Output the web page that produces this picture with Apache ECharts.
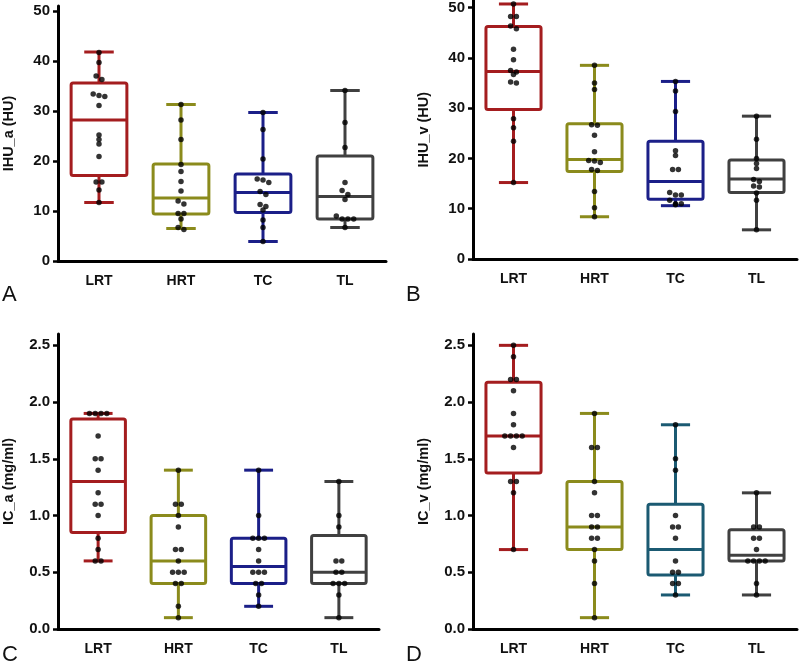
<!DOCTYPE html>
<html><head><meta charset="utf-8">
<script src="https://cdn.jsdelivr.net/npm/echarts@6/dist/echarts.min.js"></script>
<style>html,body{margin:0;padding:0;background:#fff}#c{width:800px;height:667px}</style>
</head><body><div id="c"></div>
<script>
const categories = ['LRT', 'HRT', 'TC', 'TL'];

// Panel A: IHU_a (HU)
const ihuA_LRT = [41.7, 39.7, 37.0, 36.3, 33.4, 33.1, 32.9, 31.1, 25.2, 24.3, 23.4, 20.9, 15.8, 15.8, 14.2, 11.7];
const ihuA_HRT = [31.3, 28.2, 24.3, 19.3, 17.9, 15.9, 14.0, 12.0, 11.4, 9.5, 9.5, 8.4, 6.7, 6.3];
const ihuA_TC  = [29.7, 26.3, 20.4, 16.4, 16.2, 15.7, 13.9, 13.3, 11.3, 10.9, 10.2, 8.2, 6.7, 3.9];
const ihuA_TL  = [34.1, 27.7, 22.7, 15.7, 14.1, 13.3, 12.3, 9.0, 8.4, 8.4, 8.4, 6.7];
// box stats: [min, Q1, median, Q3, max]
const ihuA_box = [[11.7, 17.1, 28.2, 35.6, 41.8], [6.5, 9.4, 12.6, 19.4, 31.3], [3.9, 9.7, 13.7, 17.4, 29.7], [6.7, 8.4, 12.9, 21.0, 34.1]];

// Panel B: IHU_v (HU)
const ihuV_LRT = [50.7, 48.2, 48.2, 46.3, 45.8, 41.7, 39.6, 37.5, 37.2, 36.7, 35.2, 35.0, 27.9, 26.1, 23.4, 15.2];
const ihuV_HRT = [38.5, 35.0, 33.7, 26.7, 26.6, 24.6, 21.3, 19.6, 19.5, 19.2, 17.8, 17.6, 13.4, 10.2, 8.4];
const ihuV_TC  = [35.3, 33.4, 29.3, 21.5, 20.6, 17.8, 17.8, 13.2, 12.7, 12.7, 11.7, 11.0, 11.0, 10.8];
const ihuV_TL  = [28.4, 23.8, 20.0, 19.0, 18.0, 15.8, 15.4, 14.5, 14.3, 13.1, 11.7, 5.8];
const ihuV_box = [[15.2, 29.7, 37.3, 46.2, 50.7], [8.4, 17.4, 19.8, 26.9, 38.5], [10.6, 11.9, 15.4, 23.4, 35.3], [5.8, 13.2, 15.9, 19.7, 28.4]];

// Panel C: IC_a (mg/ml)
const icA_LRT = [1.9, 1.9, 1.9, 1.9, 1.7, 1.5, 1.5, 1.4, 1.2, 1.1, 1.1, 1.0, 0.8, 0.7, 0.6, 0.6];
const icA_HRT = [1.4, 1.1, 1.1, 1.0, 0.9, 0.7, 0.7, 0.6, 0.5, 0.5, 0.5, 0.4, 0.4, 0.2, 0.1];
const icA_TC  = [1.4, 1.0, 0.8, 0.8, 0.8, 0.7, 0.6, 0.5, 0.5, 0.5, 0.4, 0.4, 0.3, 0.2];
const icA_TL  = [1.3, 1.0, 0.9, 0.6, 0.6, 0.5, 0.5, 0.4, 0.4, 0.4, 0.3, 0.1];
const icA_box = [[0.6, 0.85, 1.3, 1.85, 1.9], [0.1, 0.4, 0.6, 1.0, 1.4], [0.2, 0.4, 0.55, 0.8, 1.4], [0.1, 0.4, 0.5, 0.825, 1.3]];

// Panel D: IC_v (mg/ml)
const icV_LRT = [2.5, 2.4, 2.2, 2.2, 2.1, 1.9, 1.8, 1.7, 1.7, 1.7, 1.7, 1.6, 1.3, 1.3, 1.2, 0.7];
const icV_HRT = [1.9, 1.6, 1.6, 1.3, 1.2, 1.0, 1.0, 0.9, 0.9, 0.8, 0.8, 0.7, 0.6, 0.4, 0.1];
const icV_TC  = [1.8, 1.5, 1.4, 1.0, 0.9, 0.9, 0.8, 0.6, 0.5, 0.5, 0.4, 0.4, 0.3];
const icV_TL  = [1.2, 0.9, 0.9, 0.8, 0.8, 0.7, 0.6, 0.6, 0.6, 0.6, 0.4, 0.3];
const icV_box = [[0.7, 1.375, 1.7, 2.175, 2.5], [0.1, 0.7, 0.9, 1.3, 1.9], [0.3, 0.475, 0.7, 1.1, 1.8], [0.3, 0.6, 0.65, 0.875, 1.2]];

const yTicksIHU = [0, 10, 20, 30, 40, 50];
const yTicksIC = [0, 0.5, 1.0, 1.5, 2.0, 2.5];

// ---- layout / style ----
const FONT = '"Liberation Sans", Arial, Helvetica, sans-serif';
const paletteABC = ['#a41d1f', '#8b8b1c', '#1b1f88', '#404040'];
const paletteD = ['#a41d1f', '#8b8b1c', '#1b5a72', '#404040'];

const panels = [
  { name: 'IHU_a (HU)', groups: [ihuA_LRT, ihuA_HRT, ihuA_TC, ihuA_TL], box: ihuA_box, ticks: yTicksIHU, max: 51, dec: 0,
    grid: { left: 58, top: 6, width: 328, height: 255 }, palette: paletteABC, letter: 'A', lx: 2, ly: 284 },
  { name: 'IHU_v (HU)', groups: [ihuV_LRT, ihuV_HRT, ihuV_TC, ihuV_TL], box: ihuV_box, ticks: yTicksIHU, max: 51.4, dec: 0,
    grid: { left: 473, top: 0, width: 324, height: 259 }, palette: paletteABC, letter: 'B', lx: 406, ly: 284 },
  { name: 'IC_a (mg/ml)', groups: [icA_LRT, icA_HRT, icA_TC, icA_TL], box: icA_box, ticks: yTicksIC, max: 2.6, dec: 1,
    grid: { left: 57, top: 334, width: 322, height: 295 }, palette: paletteABC, letter: 'C', lx: 2, ly: 644 },
  { name: 'IC_v (mg/ml)', groups: [icV_LRT, icV_HRT, icV_TC, icV_TL], box: icV_box, ticks: yTicksIC, max: 2.6, dec: 1,
    grid: { left: 473, top: 334, width: 324, height: 295 }, palette: paletteD, letter: 'D', lx: 406, ly: 644 }
];

const DOT_SPACING = 5.8;  // px between dots in one row
const ROW_TOL = 4;        // px vertical tolerance for a row

function swarmOffsets(values, pxPerUnit) {
  const idx = values.map((v, i) => i).sort((a, b) => values[b] - values[a]);
  const off = new Array(values.length).fill(0);
  let row = [];
  const flush = () => { row.forEach((k, j) => { off[k] = (j - (row.length - 1) / 2) * DOT_SPACING; }); row = []; };
  idx.forEach(k => {
    if (row.length && (values[row[0]] - values[k]) * pxPerUnit > ROW_TOL) flush();
    row.push(k);
  });
  flush();
  return off;
}

function makeBoxRenderer(palette) {
  return function (params, api) {
    const c = api.value(0);
    const p = [1, 2, 3, 4, 5].map(i => api.coord([c, api.value(i)]));
    const x = p[0][0];
    const band = api.size([1, 0])[0];
    const bw = band * 0.68, cw = band * 0.36;
    const style = { stroke: palette[c], lineWidth: 3, fill: null, lineJoin: 'round', lineCap: 'butt' };
    const line = (x1, y1, x2, y2) => ({ type: 'line', shape: { x1, y1, x2, y2 }, style });
    return {
      type: 'group',
      children: [
        line(x, p[0][1], x, p[1][1]),
        line(x, p[3][1], x, p[4][1]),
        line(x - cw / 2, p[0][1], x + cw / 2, p[0][1]),
        line(x - cw / 2, p[4][1], x + cw / 2, p[4][1]),
        { type: 'rect', shape: { x: x - bw / 2, y: p[3][1], width: bw, height: p[1][1] - p[3][1], r: 2 }, style: Object.assign({}, style, { fill: '#fff' }) },
        line(x - bw / 2, p[2][1], x + bw / 2, p[2][1])
      ]
    };
  };
}

const grid = [], xAxis = [], yAxis = [], series = [], graphic = [];
panels.forEach((pn, gi) => {
  grid.push(pn.grid);
  xAxis.push({
    type: 'category', gridIndex: gi, data: categories,
    axisLine: { lineStyle: { color: '#000', width: 3 } },
    axisTick: { alignWithLabel: true, length: 5, lineStyle: { color: '#000', width: 2.5 } },
    axisLabel: { color: '#111', fontFamily: FONT, fontWeight: 'bold', fontSize: 14, margin: 13 }
  });
  yAxis.push({
    type: 'value', gridIndex: gi, min: 0, max: pn.max,
    name: pn.name, nameLocation: 'middle', nameGap: 42,
    nameTextStyle: { color: '#111', fontFamily: FONT, fontWeight: 'bold', fontSize: 14.5 },
    splitLine: { show: false },
    axisLine: { show: true, lineStyle: { color: '#000', width: 3 } },
    axisTick: { show: true, length: 5, customValues: pn.ticks, lineStyle: { color: '#000', width: 2.5 } },
    axisLabel: { customValues: pn.ticks, color: '#111', fontFamily: FONT, fontWeight: 'bold', fontSize: 15, margin: 8,
      formatter: v => Number(v).toFixed(pn.dec) }
  });
  series.push({
    type: 'custom', xAxisIndex: gi, yAxisIndex: gi, z: 2,
    renderItem: makeBoxRenderer(pn.palette),
    encode: { x: 0, y: [1, 2, 3, 4, 5] },
    data: pn.box.map((b, i) => [i].concat(b))
  });
  const pxPerUnit = pn.grid.height / pn.max;
  const pts = [];
  pn.groups.forEach((vals, ci) => {
    const offs = swarmOffsets(vals, pxPerUnit);
    vals.forEach((v, k) => pts.push({ value: [ci, v], symbolOffset: [offs[k], 0] }));
  });
  series.push({
    type: 'scatter', xAxisIndex: gi, yAxisIndex: gi, z: 5,
    symbol: 'circle', symbolSize: 5.5, itemStyle: { color: '#000' },
    data: pts
  });
  graphic.push({ type: 'text', left: pn.lx, top: pn.ly,
    style: { text: pn.letter, font: '22px ' + FONT, fill: '#111' } });
});

const chart = echarts.init(document.getElementById('c'), null, { renderer: 'canvas' });
chart.setOption({ animation: false, backgroundColor: '#fff', grid, xAxis, yAxis, series, graphic });
</script>
</body></html>
